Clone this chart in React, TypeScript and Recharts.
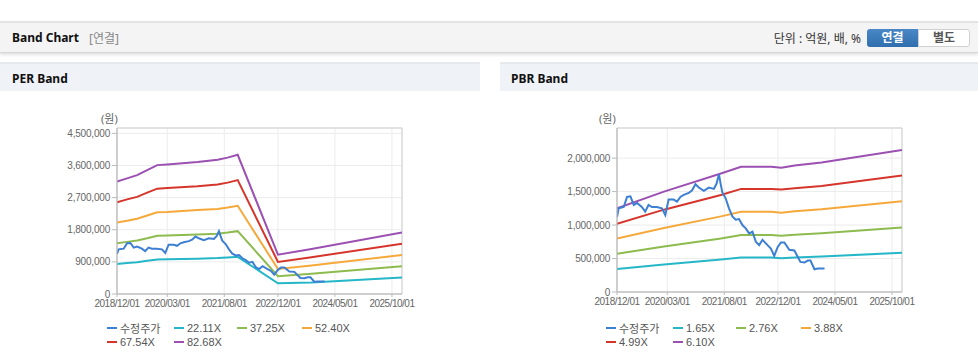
import React from 'react';
import { LineChart, Line, XAxis, YAxis, CartesianGrid, ReferenceArea } from 'recharts';

// ---- x axis (months since 2018/12) ----
const xTickMonths = [0, 15, 32, 48, 65, 82];
const xTickLabels = ['2018/12/01', '2020/03/01', '2021/08/01', '2022/12/01', '2024/05/01', '2025/10/01'];

// ---- price (수정주가) ----
const priceMonths = [0, 0.5, 2, 3, 4, 5, 6, 7.4, 8.4, 9.4, 10.4, 11.9, 13.4, 14.4, 15.4, 16.9, 17.9, 18.9, 19.9, 21.4, 22.4, 23.4, 24.4, 25.9, 27.4, 28.9, 29.7, 30.4, 30.9, 31.4, 32.4, 33.4, 34.4, 35.4, 36.4, 37.4, 38.4, 39.4, 40.4, 41.4, 42.4, 43.4, 44.9, 45.9, 46.9, 47.9, 48.9, 49.9, 51.4, 52.9, 54.7, 55.9, 56.9, 57.7, 58.9, 59.9, 61.9];
const priceValues = [1120000, 1250000, 1270000, 1420000, 1430000, 1300000, 1330000, 1270000, 1200000, 1300000, 1270000, 1270000, 1250000, 1150000, 1380000, 1380000, 1350000, 1420000, 1450000, 1480000, 1520000, 1610000, 1560000, 1510000, 1560000, 1540000, 1620000, 1760000, 1620000, 1490000, 1400000, 1250000, 1130000, 1080000, 1090000, 1000000, 950000, 876000, 900000, 750000, 700000, 780000, 700000, 650000, 540000, 670000, 740000, 740000, 630000, 620000, 450000, 440000, 470000, 470000, 340000, 350000, 350000];

// ---- PER band ----
const perMonths = [0, 3, 6, 9, 12, 15, 24, 30, 33, 36, 48, 58, 85];
const per2211 = [840000, 870000, 890000, 930000, 965000, 970000, 990000, 1005000, 1020000, 1040000, 300000, 320000, 460000];
const per3725 = [1420000, 1460000, 1500000, 1560000, 1630000, 1640000, 1670000, 1690000, 1720000, 1760000, 500000, 570000, 775000];
const per5240 = [2000000, 2050000, 2110000, 2200000, 2290000, 2300000, 2350000, 2380000, 2420000, 2470000, 700000, 800000, 1090000];
const per6754 = [2570000, 2650000, 2720000, 2840000, 2950000, 2970000, 3020000, 3070000, 3120000, 3190000, 900000, 1030000, 1410000];
const per8268 = [3150000, 3240000, 3330000, 3470000, 3610000, 3630000, 3700000, 3760000, 3820000, 3900000, 1100000, 1260000, 1720000];
const perYTicks = [0, 900000, 1800000, 2700000, 3600000, 4500000];

// ---- PBR band ----
const pbrMonths = [0, 14, 31, 37, 46, 49, 53, 61, 85];
const pbr165 = [345000, 410000, 485000, 515000, 515000, 505000, 515000, 530000, 585000];
const pbr276 = [570000, 680000, 800000, 850000, 850000, 840000, 855000, 876000, 965000];
const pbr388 = [800000, 955000, 1130000, 1200000, 1200000, 1185000, 1205000, 1235000, 1355000];
const pbr499 = [1020000, 1230000, 1450000, 1540000, 1540000, 1530000, 1550000, 1585000, 1740000];
const pbr610 = [1250000, 1500000, 1770000, 1870000, 1870000, 1855000, 1890000, 1935000, 2120000];
const pbrYTicks = [0, 500000, 1000000, 1500000, 2000000];

const colors = {
  price: '#3d7fd3',
  cyan: '#25b7c8',
  green: '#8dbb4f',
  orange: '#f6a93b',
  red: '#d5352b',
  purple: '#9b50b2',
};

const toRows = (months: number[], values: number[]) => months.map((m, i) => ({ m, v: values[i] }));

const tickStyle = { fill: '#666', fontSize: 10, letterSpacing: -0.5, fontFamily: '"Liberation Sans", Arial, sans-serif' };
const yTickStyle = { fill: '#666', fontSize: 10, letterSpacing: -0.2, fontFamily: '"Liberation Sans", Arial, sans-serif' };
const fmtY = (v: number) => v.toLocaleString('en-US');
const fmtX = (v: number) => xTickLabels[xTickMonths.indexOf(v)] ?? '';

type Band = { name: string; color: string; values: number[] };

function BandChart(props: { months: number[]; bands: Band[]; yMax: number; yTicks: number[]; width: number; plotBottom: number }) {
  const { months, bands, yMax, yTicks, width, plotBottom } = props;
  const priceRows = toRows(priceMonths, priceValues);
  return (
    <LineChart width={width} height={plotBottom + 27} margin={{ top: 18, right: width - 117 - 285, bottom: 0, left: 0 }}>
      <CartesianGrid stroke="#ececec" vertical={true} horizontal={true} />
      <XAxis
        type="number"
        dataKey="m"
        domain={[0, 85]}
        ticks={xTickMonths}
        tickFormatter={fmtX}
        allowDataOverflow
        interval={0}
        tick={tickStyle}
        tickSize={3}
        tickMargin={3}
        height={27}
        stroke="#bbb"
      />
      <YAxis
        type="number"
        domain={[0, yMax]}
        ticks={yTicks}
        tickFormatter={fmtY}
        tick={yTickStyle}
        tickSize={5}
        tickMargin={2}
        width={117}
        interval={0}
        stroke="#bbb"
        allowDataOverflow
      />
      <ReferenceArea x1={0} x2={85} y1={0} y2={yMax} fill="none" stroke="#cfcfcf" strokeWidth={1} ifOverflow="visible" />
      {bands.map((b) => (
        <Line
          key={b.name}
          data={toRows(months, b.values)}
          dataKey="v"
          type="linear"
          stroke={b.color}
          strokeWidth={2}
          dot={false}
          isAnimationActive={false}
          name={b.name}
        />
      ))}
      <Line data={priceRows} dataKey="v" type="linear" stroke={colors.price} strokeWidth={2} dot={false} isAnimationActive={false} name="수정주가" />
    </LineChart>
  );
}

function LegendBox(props: { left: number; items: { name: string; color: string }[] }) {
  const cols = [0, 67, 130, 195];
  return (
    <div style={{ position: 'absolute', left: props.left, top: 321, width: 300, height: 30 }}>
      {props.items.map((it, i) => (
        <div
          key={it.name}
          style={{
            position: 'absolute',
            left: cols[i % 4],
            top: Math.floor(i / 4) * 14,
            display: 'flex',
            alignItems: 'center',
            height: 14,
            whiteSpace: 'nowrap',
          }}
        >
          <span style={{ display: 'inline-block', width: 10, height: 2, background: it.color, marginRight: 3 }} />
          <span style={{ fontSize: 11, color: '#555', fontFamily: '"Liberation Sans", "Noto Sans CJK KR", Arial, sans-serif' }}>{it.name}</span>
        </div>
      ))}
    </div>
  );
}

export default function App() {
  const perBands: Band[] = [
    { name: '22.11X', color: colors.cyan, values: per2211 },
    { name: '37.25X', color: colors.green, values: per3725 },
    { name: '52.40X', color: colors.orange, values: per5240 },
    { name: '67.54X', color: colors.red, values: per6754 },
    { name: '82.68X', color: colors.purple, values: per8268 },
  ];
  const pbrBands: Band[] = [
    { name: '1.65X', color: colors.cyan, values: pbr165 },
    { name: '2.76X', color: colors.green, values: pbr276 },
    { name: '3.88X', color: colors.orange, values: pbr388 },
    { name: '4.99X', color: colors.red, values: pbr499 },
    { name: '6.10X', color: colors.purple, values: pbr610 },
  ];
  const headFont = '"Noto Sans", "Noto Sans CJK KR", sans-serif';
  return (
    <div style={{ position: 'absolute', left: 0, top: 0, width: 978, height: 361, background: '#fff', overflow: 'hidden' }}>
      {/* top bar */}
      <div
        style={{
          position: 'absolute',
          left: 0,
          top: 21,
          width: 978,
          height: 29,
          background: '#f4f4f4',
          borderTop: '2px solid #e3e3e3',
          borderBottom: '1px solid #d6d6d6',
          boxShadow: '0 2px 3px rgba(0,0,0,0.12)',
        }}
      >
        <span style={{ position: 'absolute', left: 12, top: 6, fontSize: 12, fontWeight: 700, color: '#111', fontFamily: headFont }}>Band Chart</span>
        <span style={{ position: 'absolute', left: 89, top: 6, fontSize: 12, color: '#888', fontFamily: headFont }}>[연결]</span>
        <span style={{ position: 'absolute', right: 117, top: 6, fontSize: 12, color: '#333', fontFamily: headFont }}>단위 : 억원, 배, %</span>
        <div
          style={{
            position: 'absolute',
            left: 867,
            top: 6,
            width: 51,
            height: 18,
            background: 'linear-gradient(#4a87c6, #2f6fae)',
            borderRadius: '3px 0 0 3px',
            color: '#fff',
            fontSize: 12,
            fontWeight: 700,
            textAlign: 'center',
            lineHeight: '18px',
            fontFamily: headFont,
          }}
        >
          연결
        </div>
        <div
          style={{
            position: 'absolute',
            left: 918,
            top: 6,
            width: 50,
            height: 16,
            background: '#fff',
            border: '1px solid #d0d0d0',
            borderRadius: '0 3px 3px 0',
            color: '#555',
            fontSize: 12,
            fontWeight: 700,
            textAlign: 'center',
            lineHeight: '16px',
            fontFamily: headFont,
          }}
        >
          별도
        </div>
      </div>

      {/* panel headers */}
      <div style={{ position: 'absolute', left: 0, top: 62, width: 480, height: 27, background: '#eff2f6', borderTop: '2px solid #e5e8ec' }}>
        <span style={{ position: 'absolute', left: 12, top: 6, fontSize: 12, fontWeight: 700, color: '#111', fontFamily: headFont }}>PER Band</span>
      </div>
      <div style={{ position: 'absolute', left: 500, top: 62, width: 478, height: 27, background: '#eff2f6', borderTop: '2px solid #e5e8ec' }}>
        <span style={{ position: 'absolute', left: 11, top: 6, fontSize: 12, fontWeight: 700, color: '#111', fontFamily: headFont }}>PBR Band</span>
      </div>

      {/* unit labels */}
      <span style={{ position: 'absolute', left: 101, top: 110, fontSize: 11, color: '#666', fontFamily: headFont }}>(원)</span>
      <span style={{ position: 'absolute', left: 599, top: 110, fontSize: 11, color: '#666', fontFamily: headFont }}>(원)</span>

      {/* charts */}
      <div style={{ position: 'absolute', left: 0, top: 110 }}>
        <BandChart months={perMonths} bands={perBands} yMax={4650000} yTicks={perYTicks} width={480} plotBottom={184} />
      </div>
      <div style={{ position: 'absolute', left: 500, top: 110 }}>
        <BandChart months={pbrMonths} bands={pbrBands} yMax={2450000} yTicks={pbrYTicks} width={478} plotBottom={182} />
      </div>

      <LegendBox left={107} items={[{ name: '수정주가', color: colors.price }, ...perBands]} />
      <LegendBox left={606} items={[{ name: '수정주가', color: colors.price }, ...pbrBands]} />
    </div>
  );
}
